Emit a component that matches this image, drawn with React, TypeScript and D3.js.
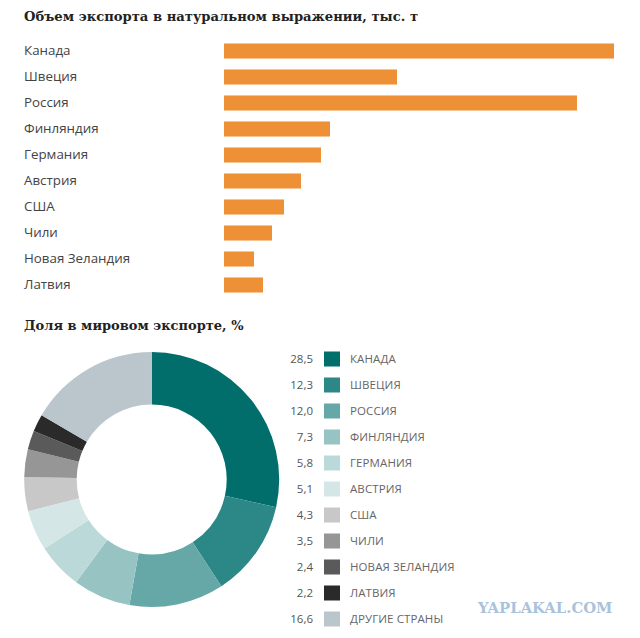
import React from "react";
import * as d3 from "d3";

const barCategories = ["Канада", "Швеция", "Россия", "Финляндия", "Германия", "Австрия", "США", "Чили", "Новая Зеландия", "Латвия"];
const barValues = [390, 173, 353, 106, 97, 77, 60, 48, 30, 39];
const shareLabels = ["КАНАДА", "ШВЕЦИЯ", "РОССИЯ", "ФИНЛЯНДИЯ", "ГЕРМАНИЯ", "АВСТРИЯ", "США", "ЧИЛИ", "НОВАЯ ЗЕЛАНДИЯ", "ЛАТВИЯ", "ДРУГИЕ СТРАНЫ"];
const shareValues = [28.5, 12.3, 12.0, 7.3, 5.8, 5.1, 4.3, 3.5, 2.4, 2.2, 16.6];
const shareColors = ["#016e6c", "#2b8886", "#66a8a7", "#97c3c2", "#bcd9d9", "#d5e6e6", "#c8c8c8", "#969696", "#5a5a5a", "#2a2a2a", "#bac5cc"];

const SERIF = "'DejaVu Serif', serif";
const SANS = "'Open Sans', sans-serif";

export default function App() {
  const x = d3.scaleLinear().domain([0, 390]).range([224, 614]);
  const y = d3.scaleBand<number>().domain(d3.range(barCategories.length)).range([38, 298]).paddingInner(0.42).paddingOuter(0.21);
  const ly = d3.scalePoint<number>().domain(d3.range(shareLabels.length)).range([359, 619]);
  const pie = d3.pie<number>().sort(null).value((d) => d);
  const arc = d3.arc<d3.PieArcDatum<number>>().innerRadius(75).outerRadius(127.5);
  const arcs = pie(shareValues);
  const fmt = (v: number) => v.toFixed(1).replace(".", ",");

  return (
    <svg width={640} height={638} style={{ position: "absolute", left: 0, top: 0, background: "#fff" }}>
      <text x={24} y={21} fontFamily={SERIF} fontWeight={700} fontSize={13.15} fill="#222">
        Объем экспорта в натуральном выражении, тыс. т
      </text>
      {barCategories.map((c, i) => (
        <g key={c}>
          <text x={24} y={y(i)! + y.bandwidth() / 2 + 3.7} fontFamily={SANS} fontSize={13.35} fill="#444">
            {c}
          </text>
          <rect x={x(0)} y={y(i)!} width={x(barValues[i]) - x(0)} height={y.bandwidth()} fill="#ee9035" />
        </g>
      ))}
      <text x={24} y={330} fontFamily={SERIF} fontWeight={700} fontSize={13} fill="#222">
        Доля в мировом экспорте, %
      </text>
      <g transform="translate(151.7,479.5)">
        {arcs.map((a, i) => (
          <path key={i} d={arc(a)!} fill={shareColors[i]} />
        ))}
      </g>
      {shareLabels.map((l, i) => (
        <g key={l}>
          <text x={313} y={ly(i)! + 4} textAnchor="end" fontFamily={SANS} fontSize={11.5} fill="#555">
            {fmt(shareValues[i])}
          </text>
          <rect x={324} y={ly(i)! - 7.5} width={16} height={15} fill={shareColors[i]} />
          <text x={350} y={ly(i)! + 4} fontFamily={SANS} fontSize={11.5} letterSpacing={0.1} fill="#666">
            {l}
          </text>
        </g>
      ))}
      <text x={478} y={612.5} fontFamily={SERIF} fontWeight={700} fontSize={14.8} fill="#a9c3dc">
        YAPLAKAL.COM
      </text>
    </svg>
  );
}
